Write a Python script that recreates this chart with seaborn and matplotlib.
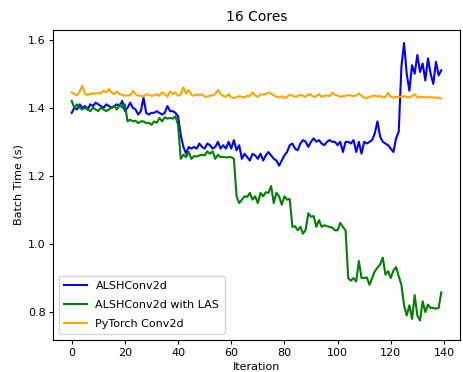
import numpy as np
import pandas as pd
import matplotlib
matplotlib.use("Agg")
import matplotlib.pyplot as plt
import seaborn as sns

# Per-iteration batch times (seconds) on 16 cores
alsh = [
    1.385, 1.400, 1.395, 1.410, 1.400, 1.405, 1.395, 1.410, 1.405, 1.415,
    1.410, 1.405, 1.400, 1.410, 1.405, 1.400, 1.405, 1.410, 1.405, 1.420,
    1.390, 1.400, 1.415, 1.400, 1.395, 1.380, 1.390, 1.430, 1.385, 1.380,
    1.385, 1.385, 1.390, 1.385, 1.380, 1.385, 1.405, 1.390, 1.390, 1.385,
    1.375, 1.320, 1.285, 1.265, 1.285, 1.280, 1.285, 1.280, 1.295, 1.285,
    1.280, 1.295, 1.290, 1.280, 1.285, 1.300, 1.280, 1.290, 1.280, 1.300,
    1.280, 1.305, 1.275, 1.290, 1.250, 1.265, 1.255, 1.245, 1.265, 1.260,
    1.250, 1.265, 1.245, 1.260, 1.270, 1.260, 1.250, 1.245, 1.230, 1.245,
    1.260, 1.270, 1.290, 1.295, 1.280, 1.275, 1.295, 1.305, 1.300, 1.285,
    1.300, 1.310, 1.300, 1.305, 1.295, 1.290, 1.300, 1.305, 1.300, 1.300,
    1.290, 1.300, 1.270, 1.300, 1.300, 1.295, 1.305, 1.270, 1.300, 1.265,
    1.300, 1.295, 1.300, 1.305, 1.325, 1.360, 1.315, 1.300, 1.295, 1.290,
    1.280, 1.270, 1.310, 1.330, 1.520, 1.590, 1.500, 1.450, 1.525, 1.500,
    1.555, 1.505, 1.530, 1.480, 1.545, 1.500, 1.470, 1.535, 1.495, 1.510,
]

alsh_las = [
    1.420, 1.400, 1.410, 1.400, 1.395, 1.400, 1.395, 1.390, 1.400, 1.395,
    1.390, 1.400, 1.395, 1.390, 1.395, 1.400, 1.405, 1.395, 1.410, 1.400,
    1.410, 1.360, 1.365, 1.360, 1.362, 1.355, 1.360, 1.360, 1.355, 1.356,
    1.350, 1.360, 1.356, 1.370, 1.360, 1.372, 1.368, 1.370, 1.368, 1.375,
    1.350, 1.250, 1.262, 1.255, 1.270, 1.250, 1.258, 1.257, 1.260, 1.262,
    1.260, 1.272, 1.265, 1.272, 1.250, 1.262, 1.255, 1.256, 1.254, 1.255,
    1.255, 1.250, 1.140, 1.120, 1.130, 1.140, 1.138, 1.150, 1.130, 1.140,
    1.120, 1.150, 1.140, 1.152, 1.150, 1.170, 1.120, 1.150, 1.140, 1.115,
    1.140, 1.130, 1.132, 1.050, 1.052, 1.040, 1.050, 1.030, 1.042, 1.090,
    1.080, 1.082, 1.050, 1.070, 1.050, 1.055, 1.052, 1.050, 1.048, 1.040,
    1.040, 1.062, 1.050, 1.040, 0.900, 0.892, 0.900, 0.890, 0.950, 0.900,
    0.900, 0.902, 0.880, 0.900, 0.920, 0.930, 0.940, 0.960, 0.910, 0.920,
    0.900, 0.922, 0.932, 0.905, 0.880, 0.820, 0.790, 0.820, 0.780, 0.850,
    0.790, 0.775, 0.832, 0.800, 0.822, 0.812, 0.812, 0.810, 0.812, 0.858,
]

pytorch = [
    1.445, 1.440, 1.436, 1.448, 1.465, 1.440, 1.437, 1.442, 1.440, 1.443,
    1.442, 1.443, 1.450, 1.445, 1.455, 1.445, 1.440, 1.448, 1.440, 1.438,
    1.435, 1.437, 1.436, 1.450, 1.440, 1.436, 1.435, 1.433, 1.440, 1.438,
    1.435, 1.436, 1.440, 1.435, 1.445, 1.440, 1.432, 1.448, 1.440, 1.445,
    1.435, 1.438, 1.460, 1.442, 1.452, 1.438, 1.435, 1.440, 1.436, 1.440,
    1.433, 1.432, 1.436, 1.436, 1.440, 1.452, 1.440, 1.435, 1.432, 1.440,
    1.430, 1.428, 1.432, 1.434, 1.432, 1.430, 1.435, 1.434, 1.445, 1.436,
    1.432, 1.440, 1.438, 1.440, 1.445, 1.442, 1.436, 1.432, 1.430, 1.434,
    1.428, 1.432, 1.438, 1.436, 1.432, 1.434, 1.438, 1.435, 1.432, 1.440,
    1.438, 1.432, 1.434, 1.440, 1.432, 1.435, 1.436, 1.434, 1.444, 1.438,
    1.436, 1.432, 1.434, 1.435, 1.437, 1.436, 1.434, 1.436, 1.442, 1.435,
    1.430, 1.428, 1.432, 1.434, 1.436, 1.432, 1.435, 1.430, 1.432, 1.444,
    1.432, 1.430, 1.431, 1.432, 1.432, 1.434, 1.432, 1.430, 1.434, 1.440,
    1.430, 1.432, 1.432, 1.431, 1.430, 1.431, 1.430, 1.430, 1.429, 1.427,
]

labels = ["ALSHConv2d", "ALSHConv2d with LAS", "PyTorch Conv2d"]
colors = ["blue", "green", "orange"]
series = [alsh, alsh_las, pytorch]

frames = []
for name, vals in zip(labels, series):
    frames.append(pd.DataFrame({"Iteration": np.arange(len(vals)),
                                "Batch Time (s)": vals,
                                "Method": name}))
df = pd.concat(frames, ignore_index=True)

fig, ax = plt.subplots(figsize=(4.63, 3.72), dpi=100)
sns.lineplot(data=df, x="Iteration", y="Batch Time (s)", hue="Method",
             hue_order=labels, palette=colors, linewidth=1.5, ax=ax)

ax.set_title("16 Cores", fontsize=10, pad=6)
ax.set_xlabel("Iteration", fontsize=8, labelpad=3)
ax.set_ylabel("Batch Time (s)", fontsize=8, labelpad=3)
ax.tick_params(labelsize=8, length=3, pad=2.5)
ax.set_xticks(range(0, 141, 20))
ax.set_yticks([0.8, 1.0, 1.2, 1.4, 1.6])
ax.set_ylim(0.718, 1.629)
ax.legend(loc="lower left", fontsize=8, title=None, labelspacing=0.8,
          borderpad=0.5)

fig.subplots_adjust(left=0.115, right=0.993, top=0.92, bottom=0.086)
fig.savefig("out.png", dpi=100)
